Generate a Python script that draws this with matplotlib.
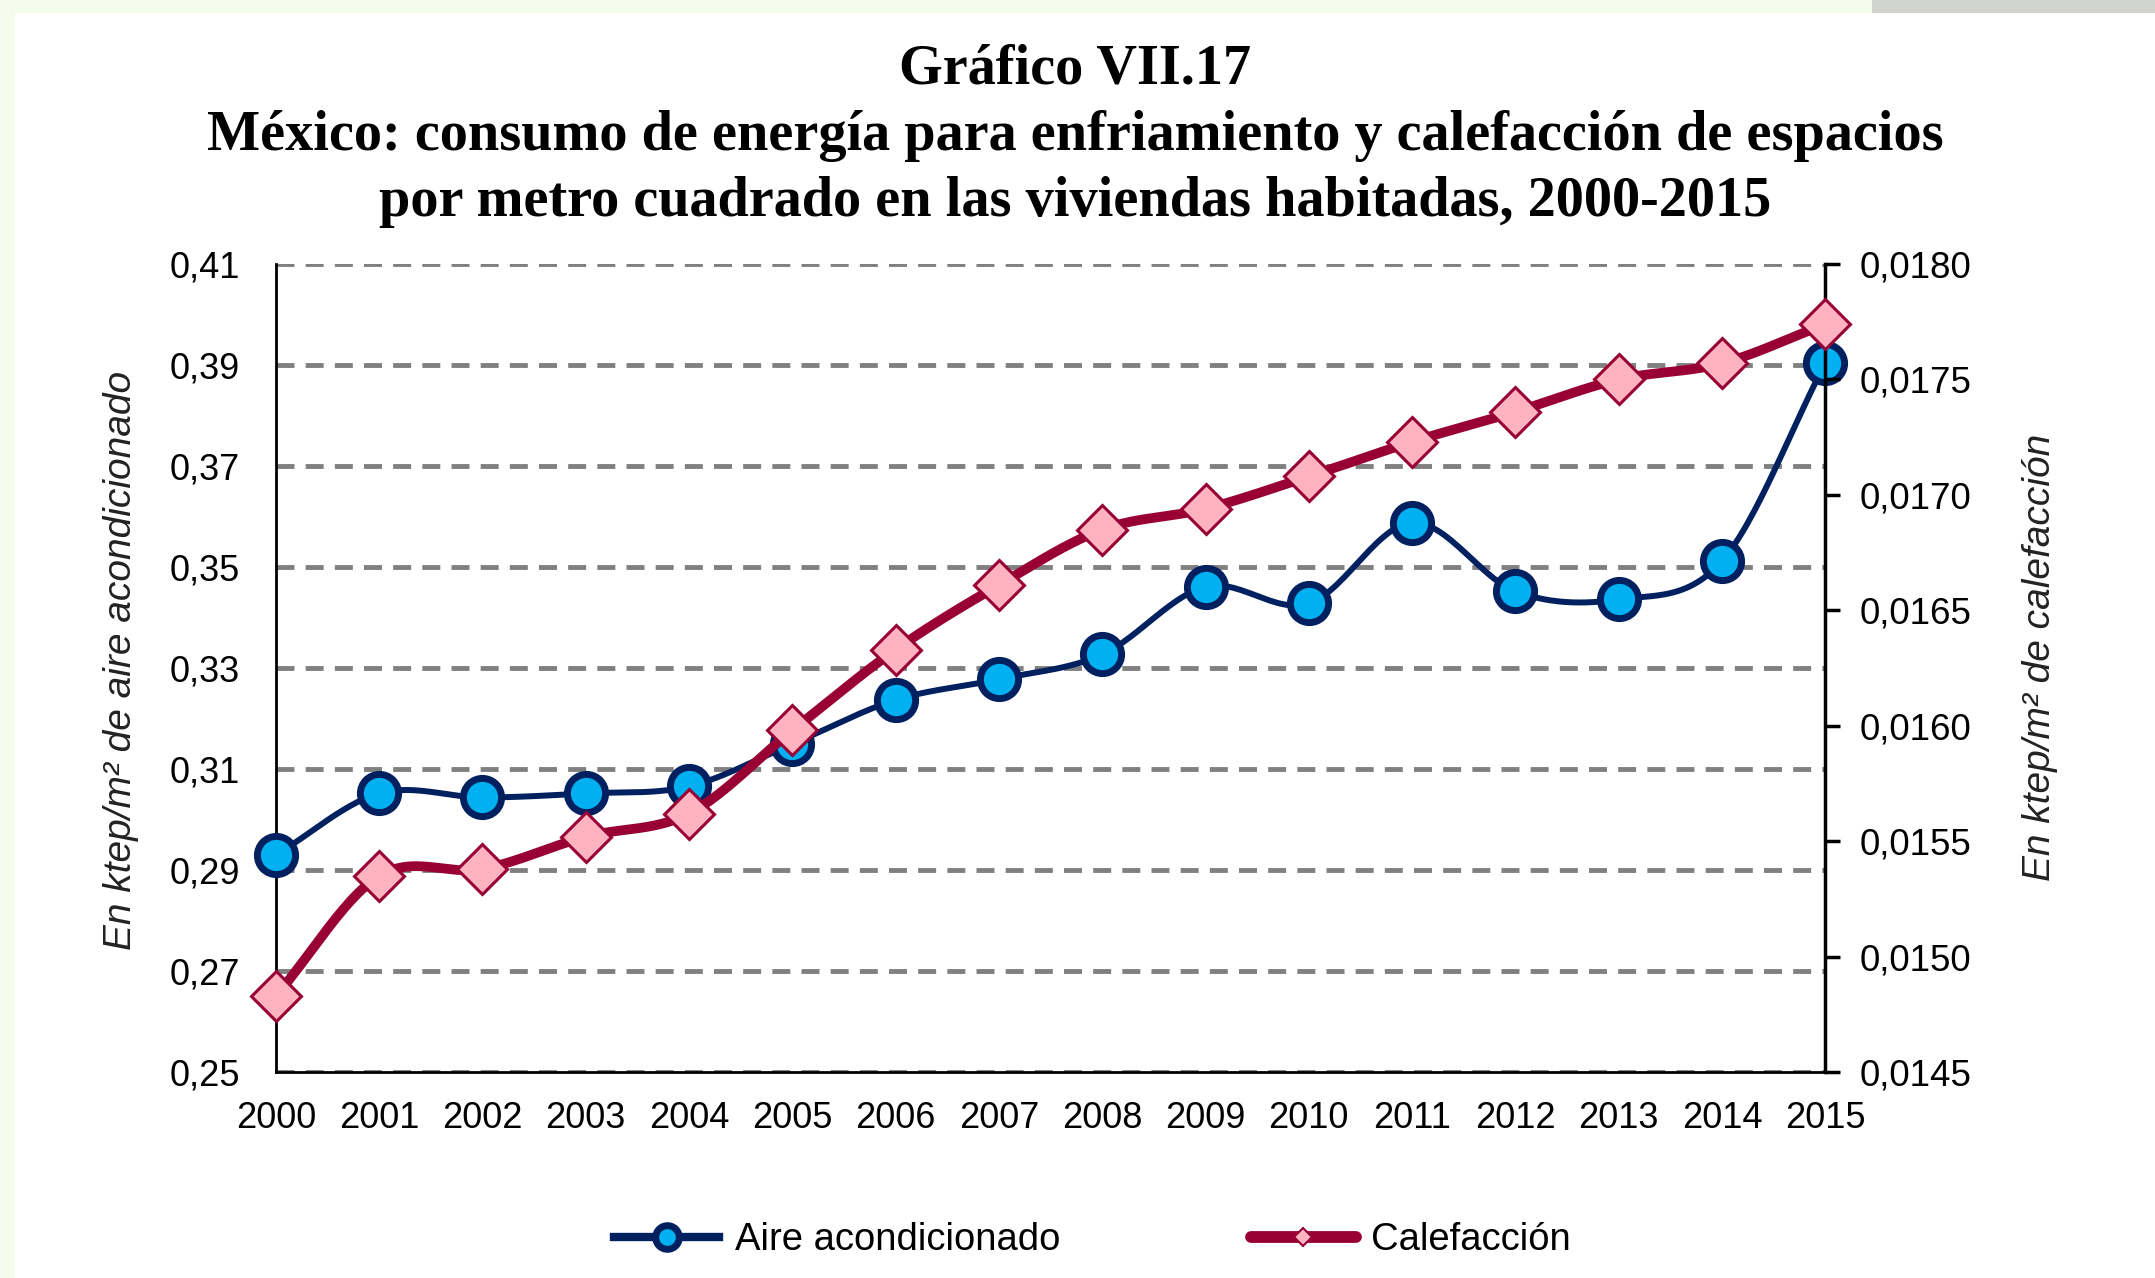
import numpy as np
import matplotlib
matplotlib.use('Agg')
import matplotlib.pyplot as plt
from matplotlib.lines import Line2D
from matplotlib.patches import Rectangle

# Data
years = [2000, 2001, 2002, 2003, 2004, 2005, 2006, 2007,
         2008, 2009, 2010, 2011, 2012, 2013, 2014, 2015]
aire = [0.2930, 0.3052, 0.3044, 0.3052, 0.3066, 0.3150, 0.3237, 0.3278,
        0.3327, 0.3461, 0.3428, 0.3588, 0.3452, 0.3436, 0.3512, 0.3904]
calef = [0.01483, 0.01535, 0.01538, 0.01552, 0.01562, 0.01598, 0.01633, 0.01661,
         0.01685, 0.01694, 0.01708, 0.01723, 0.01736, 0.01750, 0.01757, 0.01774]
left_ticks = [0.25, 0.27, 0.29, 0.31, 0.33, 0.35, 0.37, 0.39, 0.41]
right_ticks = [0.0145, 0.0150, 0.0155, 0.0160, 0.0165, 0.0170, 0.0175, 0.0180]

c_navy = '#002060'
c_sky = '#00B0F0'
c_wine = '#990033'
c_pink = '#FFB3C1'
c_grid = '#808080'


def smooth(xs, ys, n=30):
    # Catmull-Rom curve through the points (Excel-like smoothed line)
    x = np.asarray(xs, float)
    y = np.asarray(ys, float)
    px = np.concatenate([[2 * x[0] - x[1]], x, [2 * x[-1] - x[-2]]])
    py = np.concatenate([[2 * y[0] - y[1]], y, [2 * y[-1] - y[-2]]])
    t = np.linspace(0, 1, n)
    outx, outy = [], []
    for i in range(1, len(px) - 2):
        for p, out in ((px, outx), (py, outy)):
            p0, p1, p2, p3 = p[i - 1], p[i], p[i + 1], p[i + 2]
            out.append(0.5 * ((2 * p1) + (-p0 + p2) * t
                              + (2 * p0 - 5 * p1 + 4 * p2 - p3) * t ** 2
                              + (-p0 + 3 * p1 - 3 * p2 + p3) * t ** 3))
    return np.concatenate(outx), np.concatenate(outy)


plt.rcParams['font.family'] = 'Liberation Sans'

fig = plt.figure(figsize=(21.55, 12.78), dpi=100)
fig.patch.set_facecolor('#F6FCEC')
fig.patches.append(Rectangle((15 / 2155, 0), 1, 1 - 13 / 1278, transform=fig.transFigure,
                             facecolor='white', edgecolor='none', zorder=-5))
fig.patches.append(Rectangle((1872 / 2155, 1 - 13 / 1278), 1, 1, transform=fig.transFigure,
                             facecolor='#D0D3CE', edgecolor='none', zorder=-5))

ax = fig.add_axes([0.128, 0.161, 0.719, 0.6324])
ax.set_facecolor('none')
ax2 = ax.twinx()
ax2.set_facecolor('none')

# Left axis: aire acondicionado
sx, sy = smooth(years, aire)
ax.plot(sx, sy, color=c_navy, lw=4.3, zorder=3, clip_on=False)
ax.plot(years, aire, ls='none', marker='o', ms=27.5, mfc=c_sky, mec=c_navy, mew=5,
        zorder=4, clip_on=False)
ax.set_xlim(2000, 2015)
ax.set_ylim(0.25, 0.41)
ax.set_yticks(left_ticks)
ax.set_yticklabels([f'{v:.2f}'.replace('.', ',') for v in left_ticks])
ax.set_xticks(years)
ax.set_xticklabels([str(y) for y in years])
ax.yaxis.grid(True, color=c_grid, lw=3.5, ls=(0, (3.7, 2.3)))
ax.set_axisbelow(True)
ax.tick_params(axis='y', length=0, pad=26, labelsize=26)
ax.tick_params(axis='x', length=0, pad=21, labelsize=26)
for s in ['top', 'right']:
    ax.spines[s].set_visible(False)
for s in ['left', 'bottom']:
    ax.spines[s].set_linewidth(2)
    ax.spines[s].set_color('black')

# Right axis: calefaccion
sx2, sy2 = smooth(years, calef)
ax2.plot(sx2, sy2, color=c_wine, lw=7, zorder=3, clip_on=False, solid_capstyle='round')
ax2.plot(years, calef, ls='none', marker='D', ms=25.5, mfc=c_pink, mec=c_wine, mew=2.2,
         zorder=4, clip_on=False)
ax2.set_ylim(0.0145, 0.0180)
ax2.set_yticks(right_ticks)
ax2.set_yticklabels([f'{v:.4f}'.replace('.', ',') for v in right_ticks])
ax2.tick_params(axis='y', length=11, width=2.5, pad=14, labelsize=26.5, direction='out')
for s in ['top', 'left', 'bottom']:
    ax2.spines[s].set_visible(False)
ax2.spines['right'].set_linewidth(2.5)

# Titles
title_kw = dict(ha='center', va='center', family='Liberation Serif',
                fontweight='bold', fontsize=40.5)
fig.text(0.499, 0.946, 'Gráfico VII.17', **title_kw)
fig.text(0.499, 0.8935, 'México: consumo de energía para enfriamiento y calefacción de espacios',
         **title_kw)
fig.text(0.499, 0.842, 'por metro cuadrado en las viviendas habitadas, 2000-2015', **title_kw)

# Axis titles
fig.text(121 / 2155, 1 - 660 / 1278, 'En ktep/m² de aire acondicionado', rotation=90,
         ha='center', va='center', style='italic', fontsize=28, color='#222222')
fig.text(2040 / 2155, 1 - 657 / 1278, 'En ktep/m² de calefacción', rotation=90,
         ha='center', va='center', style='italic', fontsize=28, color='#222222')

# Legend
handles = [
    Line2D([], [], color=c_navy, lw=6, marker='o', ms=17, mfc=c_sky, mec=c_navy, mew=5),
    Line2D([], [], color=c_wine, lw=8.5, marker='D', ms=9, mfc=c_pink, mec=c_wine, mew=1.5,
           solid_capstyle='round'),
]
fig.legend(handles, ['Aire acondicionado', 'Calefacción'], loc='center',
           bbox_to_anchor=(0.507, 1 - 1240 / 1278), ncol=2, frameon=False, fontsize=27.5,
           handlelength=2.75, handletextpad=0.4, columnspacing=5.0)

fig.savefig('out.png', dpi=100, facecolor=fig.get_facecolor())
